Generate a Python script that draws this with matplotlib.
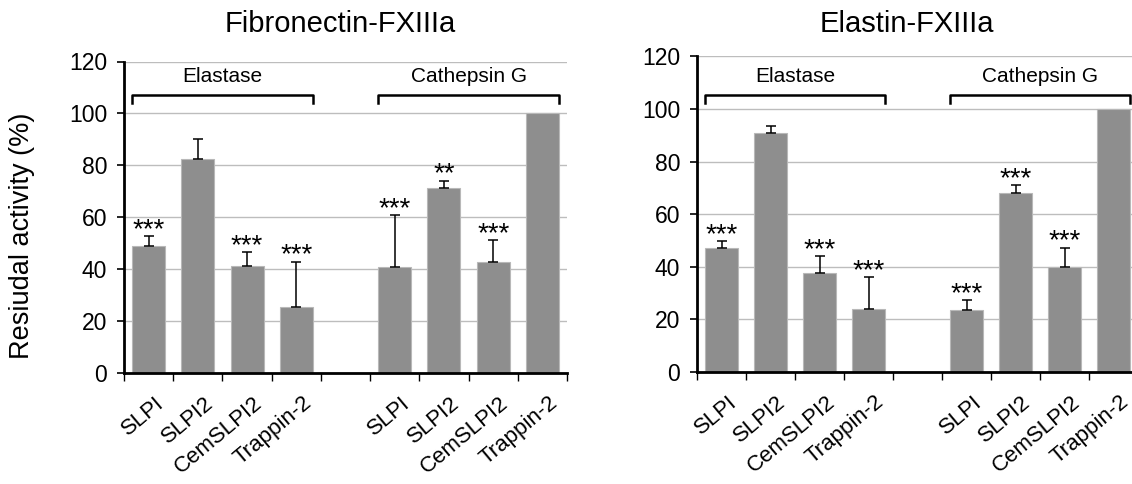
import numpy as np
import matplotlib
matplotlib.use("Agg")
import matplotlib.pyplot as plt
import matplotlib.transforms as mtransforms

plt.rcParams['font.family'] = ['Liberation Sans', 'DejaVu Sans']

categories = ["SLPI", "SLPI2", "CemSLPI2", "Trappin-2", "",
              "SLPI", "SLPI2", "CemSLPI2", "Trappin-2"]

fn_values = [48.8, 82.6, 41.1, 25.5, np.nan, 41.0, 71.1, 42.6, 100.0]
fn_errors = [4.0, 7.5, 5.6, 17.4, np.nan, 19.8, 3.0, 8.7, 0.0]
fn_stars = ["***", "", "***", "***", "", "***", "**", "***", ""]

el_values = [47.0, 91.0, 37.8, 24.0, np.nan, 23.6, 68.1, 39.8, 100.0]
el_errors = [2.7, 2.5, 6.3, 12.0, np.nan, 3.8, 2.9, 7.5, 0.0]
el_stars = ["***", "", "***", "***", "", "***", "***", "***", ""]

titles = ["Fibronectin-FXIIIa", "Elastin-FXIIIa"]
groups = ["Elastase", "Cathepsin G"]
yticks = [0, 20, 40, 60, 80, 100, 120]

W, H = 1132, 484
fig = plt.figure(figsize=(W / 100, H / 100), dpi=100)
ax1 = fig.add_axes([124 / W, 1 - 373 / H, 443 / W, (373 - 61.5) / H])
ax2 = fig.add_axes([697 / W, 1 - 372 / H, 441 / W, (372 - 56.4) / H])

bar_w = 0.67
for ax, vals, errs, stars, title, tx in [(ax1, fn_values, fn_errors, fn_stars, titles[0], 340),
                                          (ax2, el_values, el_errors, el_stars, titles[1], 907)]:
    x = np.arange(len(categories))
    ax.set_axisbelow(True)
    ax.yaxis.grid(True, color='#bdbdbd', linewidth=1.0)
    ax.bar(x, vals, width=bar_w, color='#8e8e8e', edgecolor='#b8b8b8', linewidth=0.8, zorder=2)
    v = np.array(vals, dtype=float)
    e = np.array(errs, dtype=float)
    m = ~np.isnan(v) & (e > 0)
    ax.errorbar(x[m], v[m], yerr=[np.zeros(m.sum()), e[m]], fmt='none',
                ecolor='black', elinewidth=1.1, capsize=3.3, capthick=1.1, zorder=3)
    for xi, vi, ei, s in zip(x, v, e, stars):
        if s:
            ax.text(xi, vi + ei + 2.3, s, ha='center', va='center', fontsize=20)
    ax.set_xlim(-0.5, 8.5)
    ax.set_ylim(0, 120)
    ax.set_yticks(yticks)
    ax.tick_params(axis='y', labelsize=16.5, length=5, width=1.2, direction='out', pad=7)
    ax.set_xticks(np.arange(-0.5, 9.0, 1.0))
    ax.set_xticklabels([])
    ax.tick_params(axis='x', which='major', length=6, width=1.0, direction='out')
    ax.set_xticks(x, minor=True)
    ax.set_xticklabels(categories, minor=True, rotation=40, ha='right',
                       rotation_mode='anchor', fontsize=16)
    ax.tick_params(axis='x', which='minor', length=0, pad=14)
    offset = mtransforms.ScaledTranslation(6 / 100, 0, fig.dpi_scale_trans)
    for lab in ax.get_xticklabels(minor=True):
        lab.set_transform(lab.get_transform() + offset)
    for sp in ['top', 'right']:
        ax.spines[sp].set_visible(False)
    ax.spines['left'].set_linewidth(2)
    ax.spines['bottom'].set_linewidth(2)
    fig.text(tx / W, 1 - 24 / H, title, ha='center', va='center', fontsize=21)
    # group brackets (x in data, y in figure)
    trans = mtransforms.blended_transform_factory(ax.transData, fig.transFigure)
    for (g0, g1), gname in zip([(0, 3), (5, 8)], groups):
        xl = g0 - bar_w / 2
        xr = g1 + bar_w / 2
        yt = 1 - 94.5 / H
        yb = 1 - 103 / H
        ax.plot([xl, xl, xr, xr], [yb, yt, yt, yb], color='black',
                linewidth=1.8, clip_on=False, zorder=4, transform=trans)
        ax.text((xl + xr) / 2, 1 - 77 / H, gname, ha='center', va='center',
                fontsize=15, transform=trans)

fig.text(22 / W, 1 - 236 / H, "Resiudal activity (%)", rotation=90,
         ha='center', va='center', fontsize=19.5)

fig.savefig("out.png", dpi=100)
